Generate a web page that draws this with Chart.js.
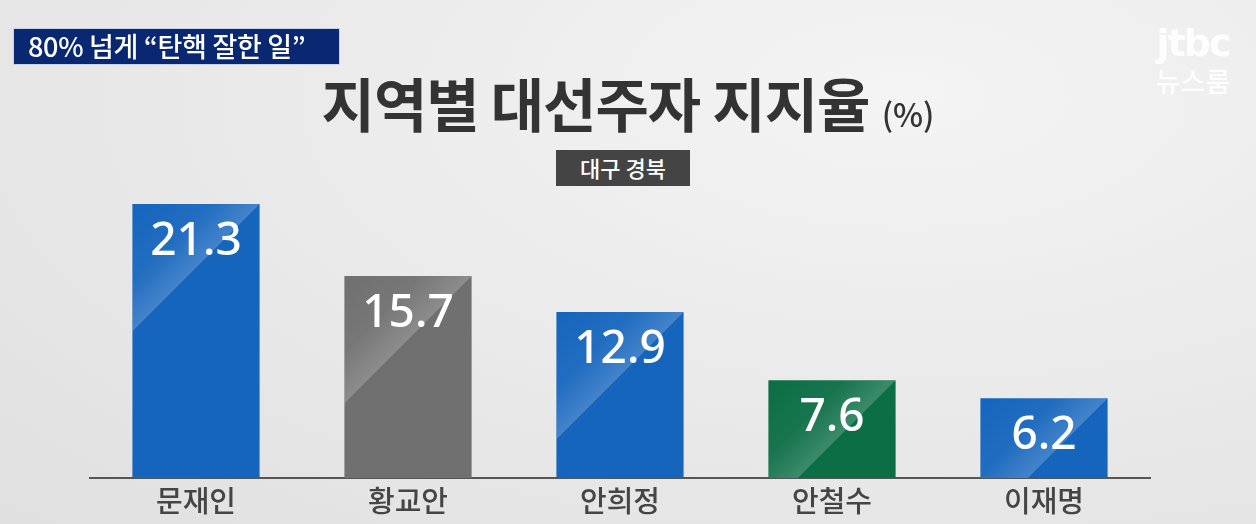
<!DOCTYPE html>
<html>
<head>
<meta charset="utf-8">
<script src="https://cdn.jsdelivr.net/npm/chart.js@4.4.0/dist/chart.umd.min.js"></script>
<style>
  html, body { margin: 0; padding: 0; }
  body {
    width: 1256px; height: 524px; overflow: hidden; position: relative;
    background: radial-gradient(ellipse at 72% 18%, #f4f4f4 0%, #ebebeb 45%, #e0e0e0 100%);
    font-family: "Noto Sans CJK KR", "Noto Sans", sans-serif;
  }
  #wrap { position: absolute; left: 0; top: 0; width: 1256px; height: 524px; }
  .topbox {
    position: absolute; left: 13px; top: 28px; width: 327px; height: 37px;
    background: #0a2872; border: 1px solid #c9d2e6; box-sizing: border-box;
    color: #fff; font-size: 27px; font-weight: 500; line-height: 34px; padding-left: 14px;
    letter-spacing: -0.3px;
  }
  .title {
    position: absolute; left: 0; width: 1256px; top: 60px; text-align: center;
    color: #333; font-size: 58px; font-weight: 700; letter-spacing: -1px;
  }
  .title small { font-size: 32px; font-weight: 500; letter-spacing: 0; }
  .badge {
    position: absolute; left: 556px; top: 150px; width: 134px; height: 36px;
    background: #444; color: #fff; font-size: 22px; font-weight: 500;
    text-align: center; line-height: 35px;
  }
  .logo { position: absolute; left: 1150px; top: 22px; color: rgba(255,255,255,0.85); text-align: center; width: 86px; }
  .logo .a { font-family: "DejaVu Sans", sans-serif; font-size: 38px; font-weight: 700; letter-spacing: -2px; line-height: 42px; }
  .logo .b { font-size: 27px; font-weight: 500; line-height: 34px; }
</style>
</head>
<body>
<div id="wrap"><canvas id="chart1"></canvas></div>
<div class="topbox">80% 넘게 “탄핵 잘한 일”</div>
<div class="title">지역별 대선주자 지지율 <small>(%)</small></div>
<div class="badge">대구 경북</div>
<div class="logo"><div class="a">jtbc</div><div class="b">뉴스룸</div></div>
<script>
const candidates = ['문재인', '황교안', '안희정', '안철수', '이재명'];
const support = [21.3, 15.7, 12.9, 7.6, 6.2];
const barColors = ['#1565bd', '#707070', '#1565bd', '#0b6e45', '#1565bd'];

// light diagonal sheen above a 45° line from the top right corner, then the value label
const barDeco = {
    id: 'barDeco',
    afterDatasetsDraw(chart) {
        const ctx = chart.ctx;
        const meta = chart.getDatasetMeta(0);
        meta.data.forEach((bar, i) => {
            const left = bar.x - bar.width / 2;
            const right = bar.x + bar.width / 2;
            const top = bar.y;
            const bottom = bar.base;
            const w = bar.width;
            ctx.save();
            ctx.beginPath();
            ctx.rect(left, top, right - left, bottom - top);
            ctx.clip();
            ctx.beginPath();
            ctx.moveTo(left, top);
            ctx.lineTo(right, top);
            ctx.lineTo(left, top + w);
            ctx.closePath();
            const g = ctx.createLinearGradient(left, top, left + w / 2, top + w / 2);
            g.addColorStop(0, 'rgba(255,255,255,0.0)');
            g.addColorStop(0.6, 'rgba(255,255,255,0.05)');
            g.addColorStop(1, 'rgba(255,255,255,0.2)');
            ctx.fillStyle = g;
            ctx.fill();
            ctx.restore();

            ctx.save();
            ctx.fillStyle = '#ffffff';
            ctx.font = '500 46px "Noto Sans", "Noto Sans CJK KR", sans-serif';
            ctx.textAlign = 'center';
            ctx.textBaseline = 'middle';
            ctx.fillText(support[i].toFixed(1), bar.x, top + 38);
            ctx.restore();
        });
    }
};

const ctx1 = document.getElementById('chart1');
const myChart = new Chart(ctx1, {
    type: 'bar',
    data: {
        labels: candidates,
        datasets: [{
            data: support,
            backgroundColor: barColors,
            borderWidth: 0
        }]
    },
    options: {
        responsive: true,
        maintainAspectRatio: false,
        animation: false,
        layout: {
            padding: { left: 90, right: 106, top: 204, bottom: 9 }
        },
        categoryPercentage: 1,
        barPercentage: 0.6,
        scales: {
            y: {
                display: false,
                min: 0,
                max: 21.3
            },
            x: {
                grid: {
                    display: false
                },
                border: {
                    display: true,
                    color: '#555555',
                    width: 2
                },
                ticks: {
                    color: '#454545',
                    padding: 0,
                    font: {
                        family: '"Noto Sans CJK KR", sans-serif',
                        size: 29,
                        weight: '500',
                        lineHeight: 1
                    }
                }
            }
        },
        plugins: {
            legend: { display: false },
            tooltip: { enabled: false }
        }
    },
    plugins: [barDeco]
});
</script>
</body>
</html>
